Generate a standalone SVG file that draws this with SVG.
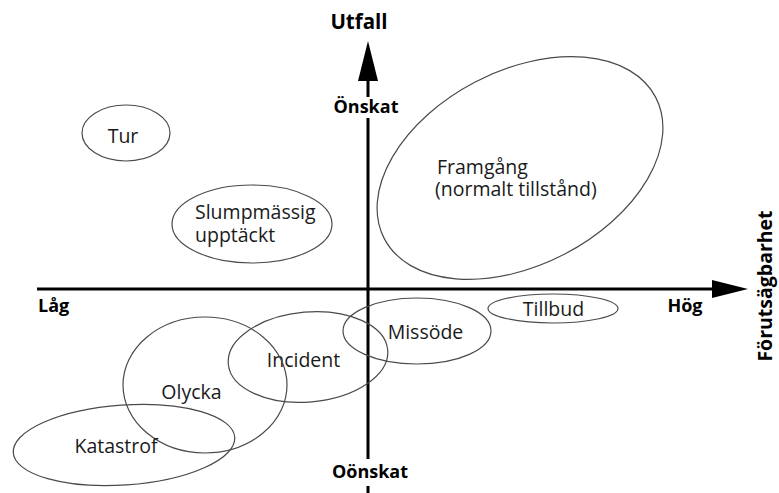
<svg xmlns="http://www.w3.org/2000/svg" width="779" height="493" viewBox="0 0 779 493">
  <style>
    .zone { fill: none; stroke: #4a4a4a; stroke-width: 1.2; }
    .lbl { font-family: "Open Sans", "Noto Sans", "DejaVu Sans", sans-serif; font-size: 19.5px; fill: #1a1a1a; }
    .ax { font-family: "Open Sans", "Noto Sans", "DejaVu Sans", sans-serif; font-weight: bold; fill: #000; }
    .axis { stroke: #000; stroke-width: 3; fill: none; }
    .head { fill: #000; stroke: none; }
  </style>
  <rect width="779" height="493" fill="#fff"/>

  <!-- axes -->
  <g id="connectors">
    <line class="axis" x1="37" y1="289" x2="713" y2="289"/>
    <polygon class="head" points="748,289 712,280 712,298"/>
    <line class="axis" x1="368" y1="80" x2="368" y2="97"/>
    <line class="axis" x1="368" y1="118" x2="368" y2="459"/>
    <line class="axis" x1="368" y1="486" x2="368" y2="493"/>
    <polygon class="head" points="368,41 358,81 378,81"/>
  </g>

  <!-- axis labels -->
  <g id="axis-labels">
    <text class="ax" x="359" y="29" font-size="20.5" text-anchor="middle">Utfall</text>
    <text class="ax" x="366" y="113" font-size="18" text-anchor="middle">Önskat</text>
    <text class="ax" x="370" y="478" font-size="18" text-anchor="middle">Oönskat</text>
    <text class="ax" x="38" y="312" font-size="18">Låg</text>
    <text class="ax" x="685" y="312" font-size="18" text-anchor="middle">Hög</text>
    <text class="ax" transform="translate(772,286) rotate(-90)" font-size="19.5" text-anchor="middle">Förutsägbarhet</text>
  </g>

  <!-- zones -->
  <g id="tur">
    <ellipse class="zone" cx="126" cy="133" rx="44" ry="28"/>
    <text class="lbl" x="123" y="143" text-anchor="middle">Tur</text>
  </g>
  <g id="slumpmassig">
    <ellipse class="zone" cx="252" cy="224" rx="80" ry="39"/>
    <text class="lbl"><tspan x="195" y="219">Slumpmässig</tspan><tspan x="195" y="242">upptäckt</tspan></text>
  </g>
  <g id="framgang">
    <ellipse class="zone" cx="0" cy="0" rx="153" ry="97" transform="translate(520,168) rotate(-27.5)"/>
    <text class="lbl"><tspan x="437" y="174">Framgång</tspan><tspan x="435" y="196">(normalt tillstånd)</tspan></text>
  </g>
  <g id="tillbud">
    <ellipse class="zone" cx="553" cy="308.5" rx="65" ry="14.5"/>
    <text class="lbl" x="553.5" y="316" text-anchor="middle">Tillbud</text>
  </g>
  <g id="missode">
    <ellipse class="zone" cx="417" cy="331" rx="74" ry="33"/>
    <text class="lbl" x="425.5" y="339" text-anchor="middle">Missöde</text>
  </g>
  <g id="incident">
    <ellipse class="zone" cx="0" cy="0" rx="80" ry="45" transform="translate(308,357) rotate(-5)"/>
    <text class="lbl" x="303.5" y="367" text-anchor="middle">Incident</text>
  </g>
  <g id="olycka">
    <ellipse class="zone" cx="205" cy="385" rx="82" ry="68"/>
    <text class="lbl" x="191.5" y="399" text-anchor="middle">Olycka</text>
  </g>
  <g id="katastrof">
    <ellipse class="zone" cx="0" cy="0" rx="111" ry="40" transform="translate(124,445) rotate(-4)"/>
    <text class="lbl" x="116" y="453" text-anchor="middle">Katastrof</text>
  </g>
</svg>
